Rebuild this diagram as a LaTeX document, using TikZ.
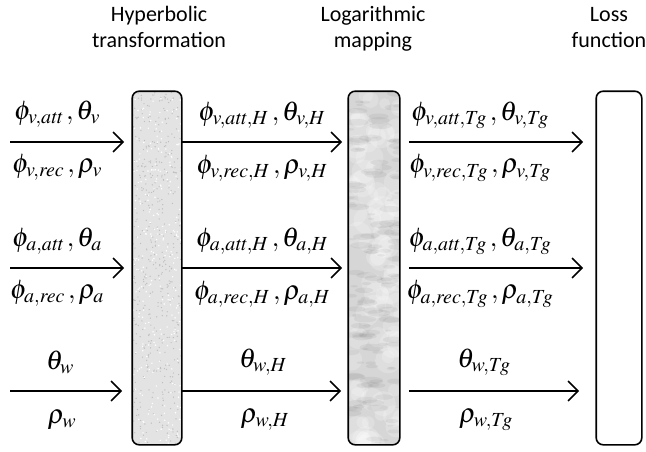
\documentclass[tikz,border=0pt]{standalone}
\usepackage{mathptmx}
\usepackage[no-math]{fontspec}
\setmainfont{Carlito}
\usetikzlibrary{arrows.meta}
\begin{document}
\begin{tikzpicture}[x=1pt,y=-1pt,
  layer/.style={line width=1.6pt, rounded corners=7pt, inner sep=0pt},
  flow/.style={line width=1.6pt, -{Straight Barb[length=10pt,width=20pt,line width=1.6pt]}},
  title/.style={font=\fontsize{22}{26}\selectfont, align=center, inner sep=0pt, anchor=base},
  lbl/.style={font=\fontsize{27}{30}\selectfont, inner sep=0pt}]
\useasboundingbox (0,0) rectangle (646,451);
\pgfmathsetseed{11}
% titles
\node[title] (t1) at (159,47) {Hyperbolic\\transformation};
\node[title] (t2) at (373,47) {Logarithmic\\mapping};
\node[title] (t3) at (609,47) {Loss\\function};
% layers
\node[layer, fill=black!11, minimum width=48pt, minimum height=352pt,
  path picture={
    \foreach \i in {1,...,500}{
      \pgfmathsetmacro\px{rnd*52}\pgfmathsetmacro\py{rnd*360}
      \fill[black!25] ([shift={(\px,\py)}]path picture bounding box.north west) circle[radius=0.7pt];}
    \foreach \i in {1,...,300}{
      \pgfmathsetmacro\px{rnd*52}\pgfmathsetmacro\py{rnd*360}
      \fill[white] ([shift={(\px,\py)}]path picture bounding box.north west) circle[radius=0.8pt];}
  }] (h) at (157,268) {};
\node[layer, fill=black!16, minimum width=50pt, minimum height=352pt,
  path picture={
    \foreach \i in {1,...,90}{
      \pgfmathsetmacro\px{rnd*52}\pgfmathsetmacro\py{rnd*360}\pgfmathsetmacro\rr{5+rnd*9}
      \fill[white, opacity=0.2] ([shift={(\px,\py)}]path picture bounding box.north west) circle[radius=\rr pt];}
    \foreach \i in {1,...,140}{
      \pgfmathsetmacro\px{rnd*52}\pgfmathsetmacro\py{rnd*360}\pgfmathsetmacro\rr{3+rnd*9}\pgfmathsetmacro\ang{rnd*180}
      \fill[black!60, opacity=0.09, rotate around={\ang:([shift={(\px,\py)}]path picture bounding box.north west)}] ([shift={(\px,\py)}]path picture bounding box.north west) ellipse[x radius=\rr pt, y radius=0.3*\rr pt];}
  }] (g) at (374,268) {};
\node[layer, fill=white, minimum width=44pt, minimum height=352pt] (l) at (619,268) {};
\draw[line width=1.6pt, rounded corners=7pt] (h.north west) rectangle (h.south east);
\draw[line width=1.6pt, rounded corners=7pt] (g.north west) rectangle (g.south east);
\draw[line width=1.6pt, rounded corners=7pt] (l.north west) rectangle (l.south east);
% start points
\coordinate (s1) at (10,142);
\coordinate (s2) at (10,268);
\coordinate (s3) at (10,391);
% row 1
\draw[flow] (s1) -- ([xshift=-8pt]h.west |- s1);
\draw[flow] (h.east |- s1) -- ([xshift=-6pt]g.west |- s1);
\draw[flow] ([xshift=9pt]g.east |- s1) -- ([xshift=-13pt]l.west |- s1);
% row 2
\draw[flow] (s2) -- ([xshift=-8pt]h.west |- s2);
\draw[flow] (h.east |- s2) -- ([xshift=-6pt]g.west |- s2);
\draw[flow] ([xshift=9pt]g.east |- s2) -- ([xshift=-13pt]l.west |- s2);
% row 3
\draw[flow] (s3) -- ([xshift=-10pt]h.west |- s3);
\draw[flow] (h.east |- s3) -- ([xshift=-7pt]g.west |- s3);
\draw[flow] ([xshift=9pt]g.east |- s3) -- ([xshift=-17pt]l.west |- s3);
% labels row 1
\node[lbl] (a1) at (57,114) {$\phi_{v,\mathit{att}}\,,\theta_v$};
\node[lbl] (b1) at (57,167) {$\phi_{v,\mathit{rec}}\,,\rho_v$};
\node[lbl] (c1) at (262,115) {$\phi_{v,\mathit{att},H}\,,\theta_{v,H}$};
\node[lbl] (d1) at (262,168) {$\phi_{v,\mathit{rec},H}\,,\rho_{v,H}$};
\node[lbl] (e1) at (480,115) {$\phi_{v,\mathit{att},\mathit{Tg}}\,,\theta_{v,\mathit{Tg}}$};
\node[lbl] (f1) at (480,168) {$\phi_{v,\mathit{rec},\mathit{Tg}}\,,\rho_{v,\mathit{Tg}}$};
% labels row 2
\node[lbl] (a2) at (57,241) {$\phi_{a,\mathit{att}}\,,\theta_a$};
\node[lbl] (b2) at (57,293) {$\phi_{a,\mathit{rec}}\,,\rho_a$};
\node[lbl] (c2) at (262,241) {$\phi_{a,\mathit{att},H}\,,\theta_{a,H}$};
\node[lbl] (d2) at (262,294) {$\phi_{a,\mathit{rec},H}\,,\rho_{a,H}$};
\node[lbl] (e2) at (480,241) {$\phi_{a,\mathit{att},\mathit{Tg}}\,,\theta_{a,\mathit{Tg}}$};
\node[lbl] (f2) at (480,294) {$\phi_{a,\mathit{rec},\mathit{Tg}}\,,\rho_{a,\mathit{Tg}}$};
% labels row 3
\node[lbl] (a3) at (60,362) {$\theta_w$};
\node[lbl] (b3) at (62,420) {$\rho_w$};
\node[lbl] (c3) at (263,362) {$\theta_{w,H}$};
\node[lbl] (d3) at (265,420) {$\rho_{w,H}$};
\node[lbl] (e3) at (484,362) {$\theta_{w,\mathit{Tg}}$};
\node[lbl] (f3) at (486,420) {$\rho_{w,\mathit{Tg}}$};
\end{tikzpicture}
\end{document}
